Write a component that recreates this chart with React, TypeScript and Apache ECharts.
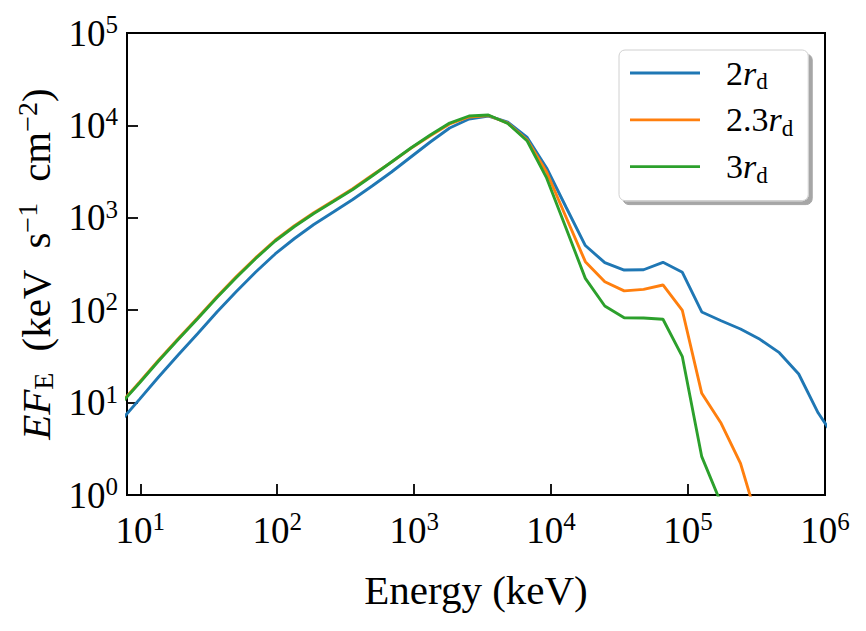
import React, { useEffect, useRef } from "react";
import * as echarts from "echarts";

// Photon energy grid (keV), log-spaced
const energies = [
  7.1, 9.9, 13.6, 18.9, 26.2, 36.3, 50.3, 69.7, 96.6, 133.7, 185, 257, 356, 493,
  683, 946, 1311, 1816, 2516, 3484, 4827, 6690, 9270, 12840, 17780, 24660, 34170,
  47340, 65580, 90860, 125900, 174400, 241600, 334800, 463800, 642600, 890300,
  1233000,
];

// E F_E (keV s^-1 cm^-2) for each radius
const flux2rd = [
  6.2, 10.9, 18.9, 32.7, 55.6, 95.7, 159, 259, 406, 597, 846, 1155, 1578, 2208,
  3131, 4550, 6610, 9370, 11720, 12640, 10880, 7400, 3460, 1309, 501, 327, 272,
  274, 330, 257, 95.7, 76.9, 62.6, 48.4, 34.7, 20.4, 7.76, 3.75,
];
const flux23rd = [
  9.65, 16.7, 28.8, 49.2, 82.3, 140, 231, 370, 572, 821, 1135, 1530, 2065, 2890,
  4000, 5650, 7700, 10360, 12330, 12800, 10610, 6950, 3130, 1020, 335, 203, 162,
  168, 187.5, 99.3, 12.6, 5.97, 2.2, 0.435,
];
const flux3rd = [
  9.46, 16.4, 28.2, 48.2, 80.7, 137, 226, 363, 561, 805, 1113, 1500, 2024, 2833,
  4018, 5690, 7870, 10610, 12640, 12970, 10490, 6780, 2700, 776, 221, 111, 83,
  82.4, 79.8, 31.4, 2.6, 0.81,
];

const seriesNames = ["2", "2.3", "3"];
const seriesColors = ["#1f77b4", "#ff7f0e", "#2ca02c"];
const seriesFlux = [flux2rd, flux23rd, flux3rd];

const FONT = "Liberation Serif";
const TICK = 37;
const NAME = 41;

const powRich = {
  b: { fontFamily: FONT, fontSize: TICK, lineHeight: 42, color: "#000" },
  s: { fontFamily: FONT, fontSize: 25, lineHeight: 25, verticalAlign: "top", color: "#000" },
};

function powLabel(v: number): string {
  const e = Math.round(Math.log10(v));
  if (Math.abs(Math.pow(10, e) - v) / v > 1e-6) return "";
  return `{b|10}{s|${e}}`;
}

export default function App() {
  const ref = useRef<HTMLDivElement>(null);

  useEffect(() => {
    if (!ref.current) return;
    const chart = echarts.init(ref.current, undefined, { renderer: "svg" });

    const series = seriesNames.map((name, k) => ({
      name,
      type: "line",
      data: seriesFlux[k].map((f, i) => [energies[i], f]),
      showSymbol: false,
      symbol: "none",
      clip: true,
      lineStyle: { color: seriesColors[k], width: 2.9 },
      itemStyle: { color: seriesColors[k] },
    }));

    chart.setOption({
      animation: false,
      backgroundColor: "#fff",
      textStyle: { fontFamily: FONT },
      grid: {
        left: 127,
        right: 41,
        top: 33,
        bottom: 136,
        show: true,
        borderColor: "#000",
        borderWidth: 2,
        backgroundColor: "transparent",
      },
      xAxis: {
        type: "log",
        logBase: 10,
        min: 8,
        max: 1e6,
        name: "Energy (keV)",
        nameLocation: "middle",
        nameGap: 74,
        nameTextStyle: { fontFamily: FONT, fontSize: NAME, color: "#000" },
        axisLine: { show: true, lineStyle: { color: "#000", width: 2 } },
        axisTick: { show: true, inside: true, length: 11, lineStyle: { color: "#000", width: 1.8 } },
        minorTick: { show: false },
        splitLine: { show: false },
        axisLabel: {
          margin: 14,
          fontFamily: FONT,
          formatter: (v: number) => powLabel(v),
          rich: powRich,
          showMinLabel: true,
          showMaxLabel: true,
        },
      },
      yAxis: {
        type: "log",
        logBase: 10,
        min: 1,
        max: 1e5,
        name: "{it|EF}{sub|E}{sp| }{n|(keV}{sp| }{n|s}{sup|\u22121}{sp| }{n|cm}{sup|\u22122}{n|)}",
        nameLocation: "middle",
        nameRotate: 90,
        nameGap: 66,
        nameTextStyle: {
          fontFamily: FONT,
          rich: {
            it: { fontFamily: FONT, fontSize: NAME, fontStyle: "italic", lineHeight: 44, color: "#000" },
            n: { fontFamily: FONT, fontSize: NAME, lineHeight: 44, color: "#000" },
            sp: { fontFamily: FONT, fontSize: NAME, lineHeight: 44, width: 21 },
            sub: { fontFamily: FONT, fontSize: 28, lineHeight: 28, verticalAlign: "bottom", color: "#000" },
            sup: { fontFamily: FONT, fontSize: 28, lineHeight: 28, verticalAlign: "top", color: "#000" },
          },
        },
        axisLine: { show: true, lineStyle: { color: "#000", width: 2 } },
        axisTick: { show: true, inside: true, length: 11, lineStyle: { color: "#000", width: 1.8 } },
        minorTick: { show: false },
        splitLine: { show: false },
        axisLabel: {
          margin: 9,
          fontFamily: FONT,
          formatter: (v: number) => powLabel(v),
          rich: powRich,
        },
      },
      legend: {
        orient: "vertical",
        left: 619,
        top: 50,
        icon: "rect",
        itemWidth: 70,
        itemHeight: 2.8,
        itemGap: 9.8,
        padding: [6, 15, 14, 11],
        backgroundColor: "#fff",
        borderColor: "#d0d0d0",
        borderWidth: 1,
        borderRadius: 6,
        shadowColor: "rgba(0,0,0,0.35)",
        shadowBlur: 0,
        shadowOffsetX: 4,
        shadowOffsetY: 4,
        selectedMode: false,
        data: seriesNames,
        formatter: (name: string) => `{n|${name}}{i|r}{s|d}`,
        textStyle: {
          fontFamily: FONT,
          padding: [0, 0, 0, 21],
          rich: {
            n: { fontFamily: FONT, fontSize: 34, lineHeight: 40, color: "#000" },
            i: { fontFamily: FONT, fontSize: 34, fontStyle: "italic", lineHeight: 40, color: "#000" },
            s: { fontFamily: FONT, fontSize: 23, lineHeight: 23, verticalAlign: "bottom", color: "#000" },
          },
        },
      },
      series,
    });

    return () => chart.dispose();
  }, []);

  return (
    <div
      ref={ref}
      style={{ position: "fixed", left: 0, top: 0, width: 866, height: 631 }}
    />
  );
}
